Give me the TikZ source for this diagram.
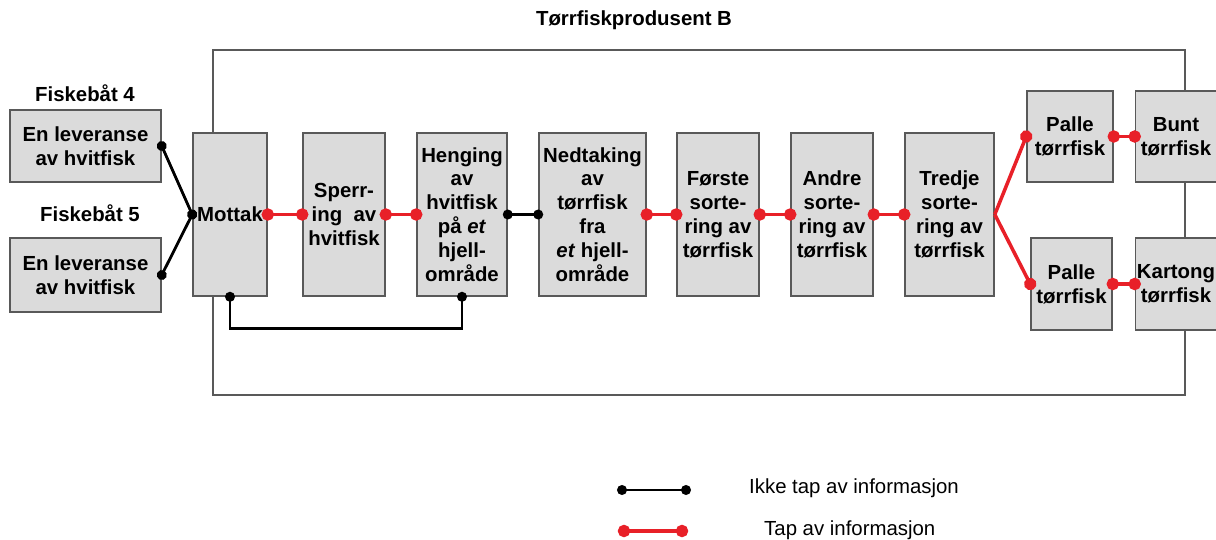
\documentclass[tikz,border=0pt]{standalone}
\usepackage{fontspec}
\setmainfont{Liberation Sans}
\usetikzlibrary{arrows.meta}
\definecolor{rodt}{RGB}{232,32,40}

\begin{document}
\begin{tikzpicture}[x=0.02cm,y=-0.02cm,
    boks/.style={draw=black!65,fill=black!14,line width=0.9pt,align=center,inner sep=0pt,font=\fontsize{11.6}{13.6}\selectfont\bfseries},
    tekst/.style={font=\fontsize{11.6}{13.6}\selectfont\bfseries},
    ikke/.style={black,line width=1.6pt,{Circle[length=5.6pt]}-{Circle[length=5.6pt]},shorten <=-2.8pt,shorten >=-2.8pt},
    tap/.style={rodt,line width=2pt,{Circle[length=7pt]}-{Circle[length=7pt]},shorten <=-3.5pt,shorten >=-3.5pt},
    tapgren/.style={rodt,line width=2pt,-{Circle[length=7pt]},shorten >=-3.5pt}]
    \useasboundingbox (0,0) rectangle (1216,540);

    \node (tittel) at (634,20) [tekst] {Tørrfiskprodusent B}; \draw[black!65,line width=0.6pt] (213,50) rectangle (1185,395);

    \node (F4) at (85,93) [tekst] {Fiskebåt 4}; \node (L4) at (85.5,146) [boks,minimum width=3.02cm,minimum height=1.44cm] {En leveranse\\av hvitfisk};
    \node (F5) at (90,213) [tekst] {Fiskebåt 5}; \node (L5) at (85.5,275) [boks,minimum width=3.02cm,minimum height=1.48cm] {En leveranse\\av hvitfisk};

    \node (M) at (230,214.5) [boks,minimum width=1.48cm,minimum height=3.26cm] {Mottak}; \node (S) at (344,214.5) [boks,minimum width=1.64cm,minimum height=3.26cm] {Sperr-\\ing~~av\\hvitfisk}; \node (H) at (462,214.5) [boks,minimum width=1.8cm,minimum height=3.26cm] {Henging\\av\\hvitfisk\\på \textit{et}\\hjell-\\område}; \node (N) at (592.5,214.5) [boks,minimum width=2.14cm,minimum height=3.26cm] {Nedtaking\\av\\tørrfisk\\fra\\\textit{et} hjell-\\område};
    \node (FS) at (718,214.5) [boks,minimum width=1.64cm,minimum height=3.26cm] {Første\\sorte-\\ring av\\tørrfisk}; \node (AS) at (832,214.5) [boks,minimum width=1.64cm,minimum height=3.26cm] {Andre\\sorte-\\ring av\\tørrfisk}; \node (TS) at (949.5,214.5) [boks,minimum width=1.78cm,minimum height=3.26cm] {Tredje\\sorte-\\ring av\\tørrfisk};

    \node (P1) at (1070,136.5) [boks,minimum width=1.72cm,minimum height=1.82cm] {Palle\\tørrfisk}; \node (B) at (1176,136.5) [boks,minimum width=1.62cm,minimum height=1.82cm] {Bunt\\tørrfisk};
    \node (P2) at (1071.5,284) [boks,minimum width=1.62cm,minimum height=1.84cm] {Palle\\tørrfisk}; \node (K) at (1176,284) [boks,minimum width=1.62cm,minimum height=1.84cm] {Kartong\\tørrfisk};

    \draw[ikke] (L4.east) -- (M.west); \draw[ikke] (L5.east) -- (M.west); \draw[ikke] (M.south) -- ++(0,32) -| (H.south); \draw[ikke] (H.east) -- (N.west);

    \draw[tap] (M.east) -- (S.west); \draw[tap] (S.east) -- (H.west); \draw[tap] (N.east) -- (FS.west); \draw[tap] (FS.east) -- (AS.west); \draw[tap] (AS.east) -- (TS.west);

    \draw[tapgren] (TS.east) -- (P1.west); \draw[tapgren] (TS.east) -- (P2.west); \draw[tap] (P1.east) -- (B.west); \draw[tap] (P2.east) -- (K.west);

    \coordinate (i0) at (622,490); \coordinate (i1) at (686,490); \draw[ikke] (i0) -- (i1); \node (it) at (743,488) [anchor=west,font=\fontsize{11.6}{13.6}\selectfont] {Ikke tap av informasjon};
    \coordinate (t0) at (624,531); \coordinate (t1) at (682,531); \draw[tap] (t0) -- (t1); \node (tt) at (758,530) [anchor=west,font=\fontsize{11.6}{13.6}\selectfont] {Tap av informasjon};

    \end{tikzpicture}
\end{document}
